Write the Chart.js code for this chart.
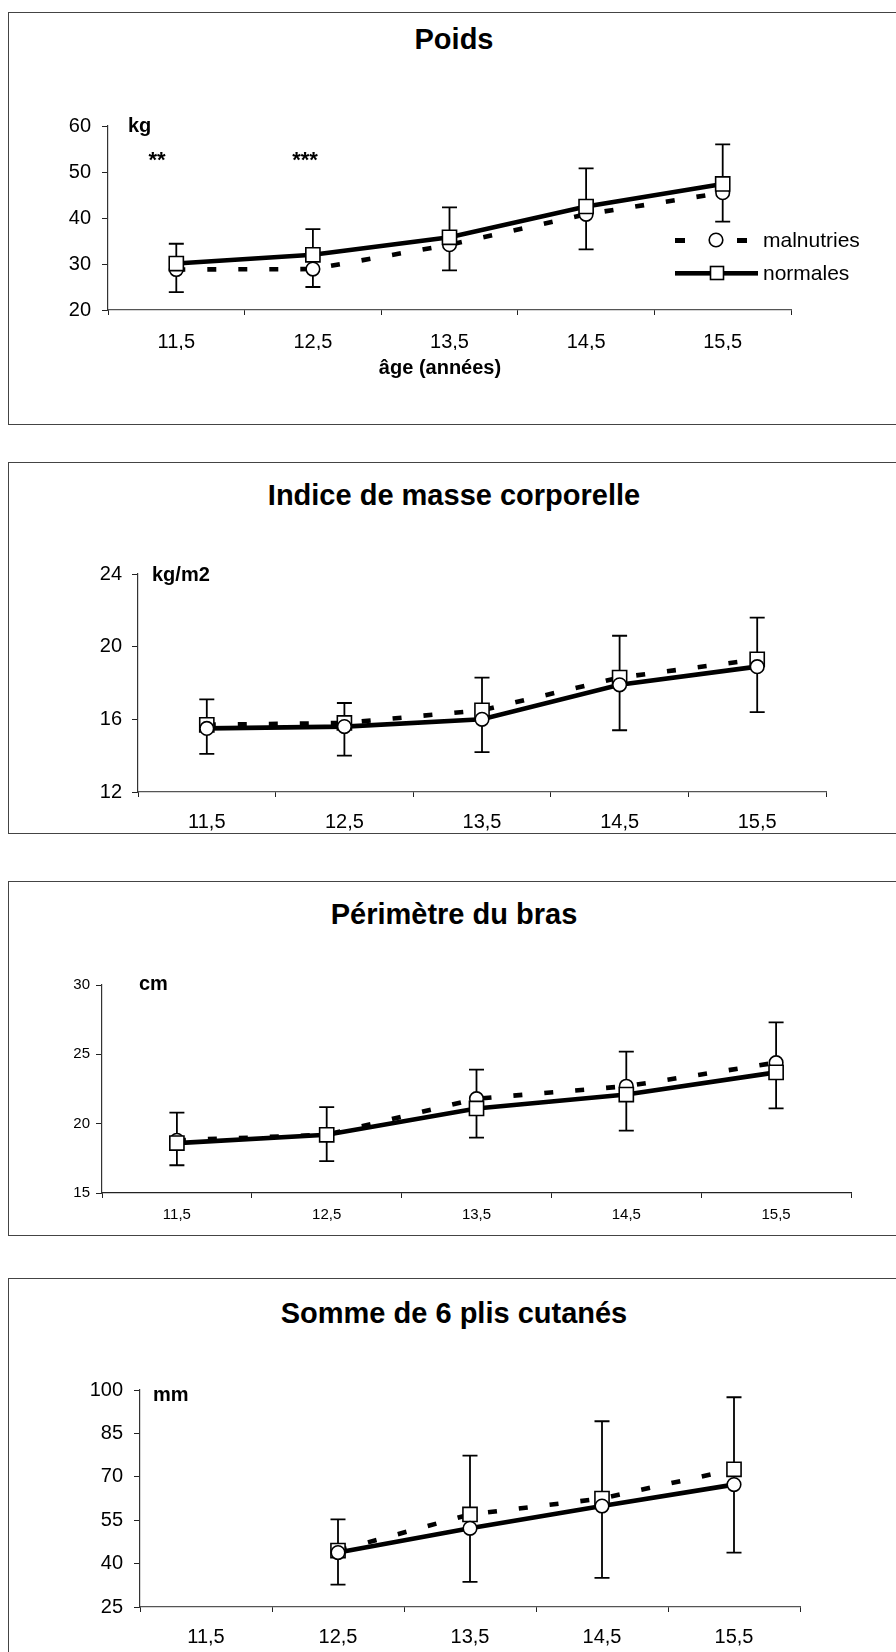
<!DOCTYPE html>
<html>
<head>
<meta charset="utf-8">
<script src="https://cdn.jsdelivr.net/npm/chart.js@4.4.1/dist/chart.umd.min.js"></script>
<style>
body { margin: 0; background: #fff; width: 896px; height: 1652px; position: relative; overflow: hidden;
       font-family: Arial, "Liberation Sans", sans-serif; }
.frame { position: absolute; left: 8px; width: 900px; border-top: 1px solid #444; border-left: 1px solid #444; border-bottom: 1px solid #444; }
.title { position: absolute; left: 0; width: 908px; text-align: center; font-weight: bold; font-size: 29px; line-height: 34px; color: #000; }
canvas { position: absolute; left: 0; }
</style>
</head>
<body>
<div class="frame" style="top:12px;height:411px"></div>
<div class="frame" style="top:462px;height:370px"></div>
<div class="frame" style="top:881px;height:353px"></div>
<div class="frame" style="top:1278px;height:400px;border-bottom:none"></div>

<div class="title" style="top:22px">Poids</div>
<div class="title" style="top:478px">Indice de masse corporelle</div>
<div class="title" style="top:897px">Périmètre du bras</div>
<div class="title" style="top:1296px">Somme de 6 plis cutanés</div>

<canvas id="poids"></canvas>
<canvas id="imc"></canvas>
<canvas id="bras"></canvas>
<canvas id="plis"></canvas>

<script>
// ages (x categories)
const ages = ["11,5", "12,5", "13,5", "14,5", "15,5"];

// Poids (kg)
const poidsMal = [28.8, 28.9, 34.2, 40.8, 45.5];
const poidsNorm = [30.1, 32.0, 35.8, 42.5, 47.4];
const poidsErrHigh = [34.4, 37.6, 42.3, 50.8, 56.0];
const poidsErrLow = [23.9, 25.0, 28.6, 33.2, 39.2];
const poidsTicks = [20, 60, 10];

// Indice de masse corporelle (kg/m2)
const imcMal = [15.5, 15.6, 16.0, 17.9, 18.9];
const imcNorm = [15.7, 15.8, 16.5, 18.3, 19.3];
const imcErrHigh = [17.1, 16.9, 18.3, 20.6, 21.6];
const imcErrLow = [14.1, 14.0, 14.2, 15.4, 16.4];
const imcTicks = [12, 24, 4];

// Périmètre du bras (cm)
const brasMal = [18.8, 19.2, 21.8, 22.7, 24.4];
const brasNorm = [18.6, 19.2, 21.1, 22.1, 23.7];
const brasErrHigh = [20.8, 21.2, 23.9, 25.2, 27.3];
const brasErrLow = [17.0, 17.3, 19.0, 19.5, 21.1];
const brasTicks = [15, 30, 5];

// Somme de 6 plis cutanés (mm)
const plisMal = [null, 43.8, 52.2, 59.9, 67.3];
const plisNorm = [null, 44.5, 57.0, 62.5, 72.6];
const plisErrHigh = [null, 55.3, 77.3, 89.2, 97.5];
const plisErrLow = [null, 32.7, 33.7, 35.1, 43.8];
const plisTicks = [25, 100, 15];

Chart.defaults.font.family = 'Arial, "Liberation Sans", sans-serif';
Chart.defaults.color = "#000";

function errorBarPlugin(high, low) {
    return {
        id: "errorBars",
        beforeDatasetsDraw(chart) {
            const ctx = chart.ctx;
            const x = chart.scales.x, y = chart.scales.y;
            ctx.save();
            ctx.strokeStyle = "#000";
            ctx.lineWidth = 1.8;
            high.forEach(function (hi, i) {
                if (hi == null) return;
                const px = x.getPixelForValue(i);
                const top = y.getPixelForValue(hi);
                const bot = y.getPixelForValue(low[i]);
                ctx.beginPath();
                ctx.moveTo(px, top); ctx.lineTo(px, bot);
                ctx.moveTo(px - 7.5, top); ctx.lineTo(px + 7.5, top);
                ctx.moveTo(px - 7.5, bot); ctx.lineTo(px + 7.5, bot);
                ctx.stroke();
            });
            ctx.restore();
        }
    };
}

function decorPlugin(draw) {
    return { id: "decor", afterDraw(chart) { chart.ctx.save(); draw(chart.ctx); chart.ctx.restore(); } };
}

function text(ctx, str, x, y, font, align) {
    ctx.font = font;
    ctx.fillStyle = "#000";
    ctx.textAlign = align || "left";
    ctx.textBaseline = "middle";
    ctx.fillText(str, x, y);
}

function makeChart(id, p) {
    let canvas = document.getElementById(id);
    canvas.width = 896;
    canvas.height = p.h;
    canvas.style.top = p.top + "px";

    let base = {
        borderColor: "#000",
        tension: 0,
        pointBackgroundColor: "#fff",
        pointBorderColor: "#000",
        pointBorderWidth: 1.6,
        pointHoverRadius: 0,
    };
    let circle = { pointStyle: "circle", pointRadius: 6.8 };
    let square = { pointStyle: "rect", pointRadius: 10 };

    let a = p.area;
    let yw = 60, xh = 40;

    return new Chart(canvas, {
        type: "line",
        data: {
            labels: ages,
            datasets: [
                Object.assign({ data: p.solid, borderWidth: 4.6 }, base, p.solidMarker === "rect" ? square : circle),
                Object.assign({ data: p.dashed, borderWidth: 4.6, borderDash: [9, 22] }, base, p.solidMarker === "rect" ? circle : square),
            ],
        },
        options: {
            responsive: false,
            animation: false,
            events: [],
            layout: {
                padding: {
                    top: a.t - p.top,
                    left: a.l - yw,
                    right: 896 - a.r,
                    bottom: p.top + p.h - a.b - xh,
                },
            },
            plugins: { legend: { display: false }, tooltip: { enabled: false }, title: { display: false } },
            scales: {
                x: {
                    type: "category",
                    offset: true,
                    afterFit: function (s) { s.height = xh; },
                    grid: { offset: true, drawOnChartArea: false, tickLength: 5, color: "#222", lineWidth: 1 },
                    border: { color: p.axisColor, width: 1.2, dash: p.axisDash },
                    ticks: { font: { size: p.fs }, padding: p.xpad, maxRotation: 0, autoSkip: false },
                },
                y: {
                    min: p.ticks[0],
                    max: p.ticks[1],
                    afterFit: function (s) { s.width = yw; },
                    grid: { drawOnChartArea: false, tickLength: 6, color: "#222", lineWidth: 1 },
                    border: { color: "#333", width: 1.2, dash: [7, 1.5] },
                    ticks: { stepSize: p.ticks[2], font: { size: p.fs }, padding: p.ypad },
                },
            },
        },
        plugins: [errorBarPlugin(p.high, p.low), decorPlugin(p.decor)],
    });
}

makeChart("poids", {
    top: 0, h: 430,
    area: { l: 108, r: 791, t: 126, b: 310 },
    solid: poidsNorm, dashed: poidsMal, solidMarker: "rect",
    high: poidsErrHigh, low: poidsErrLow, ticks: poidsTicks,
    fs: 20, xpad: 15, ypad: 11, axisColor: "#555", axisDash: [10, 3, 2, 4],
    decor: function (ctx) {
        text(ctx, "kg", 128, 126, "bold 20px Arial", "left");
        text(ctx, "**", 157, 161, "bold 22px Arial", "center");
        text(ctx, "***", 305, 161, "bold 22px Arial", "center");
        text(ctx, "âge (années)", 440, 368, "bold 20px Arial", "center");
        // legend
        ctx.fillStyle = "#000";
        ctx.fillRect(675, 238, 10, 5);
        ctx.fillRect(737, 238, 10, 5);
        ctx.beginPath();
        ctx.arc(716, 240, 6.8, 0, Math.PI * 2);
        ctx.fillStyle = "#fff"; ctx.fill();
        ctx.lineWidth = 1.6; ctx.strokeStyle = "#000"; ctx.stroke();
        text(ctx, "malnutries", 763, 241, "21px Arial", "left");
        ctx.fillStyle = "#000";
        ctx.fillRect(675, 271, 83, 4.6);
        ctx.fillStyle = "#fff";
        ctx.fillRect(710.5, 266.5, 13, 13);
        ctx.strokeRect(710.5, 266.5, 13, 13);
        text(ctx, "normales", 763, 274, "21px Arial", "left");
    },
});

makeChart("imc", {
    top: 440, h: 410,
    area: { l: 138, r: 826, t: 574, b: 792 },
    solid: imcMal, dashed: imcNorm, solidMarker: "circle",
    high: imcErrHigh, low: imcErrLow, ticks: imcTicks,
    fs: 20, xpad: 13, ypad: 10, axisColor: "#555", axisDash: [10, 3, 2, 4],
    decor: function (ctx) {
        text(ctx, "kg/m2", 152, 575 - 440, "bold 20px Arial", "left");
    },
});

makeChart("bras", {
    top: 860, h: 385,
    area: { l: 102, r: 851, t: 985, b: 1193 },
    solid: brasNorm, dashed: brasMal, solidMarker: "rect",
    high: brasErrHigh, low: brasErrLow, ticks: brasTicks,
    fs: 15, xpad: 8, ypad: 6, axisColor: "#222", axisDash: [],
    decor: function (ctx) {
        text(ctx, "cm", 139, 984 - 860, "bold 20px Arial", "left");
    },
});

makeChart("plis", {
    top: 1250, h: 402,
    area: { l: 140, r: 800, t: 1390, b: 1607 },
    solid: plisMal, dashed: plisNorm, solidMarker: "circle",
    high: plisErrHigh, low: plisErrLow, ticks: plisTicks,
    fs: 20, xpad: 13, ypad: 11, axisColor: "#555", axisDash: [10, 3, 2, 4],
    decor: function (ctx) {
        text(ctx, "mm", 153, 1395 - 1250, "bold 20px Arial", "left");
    },
});
</script>
</body>
</html>
